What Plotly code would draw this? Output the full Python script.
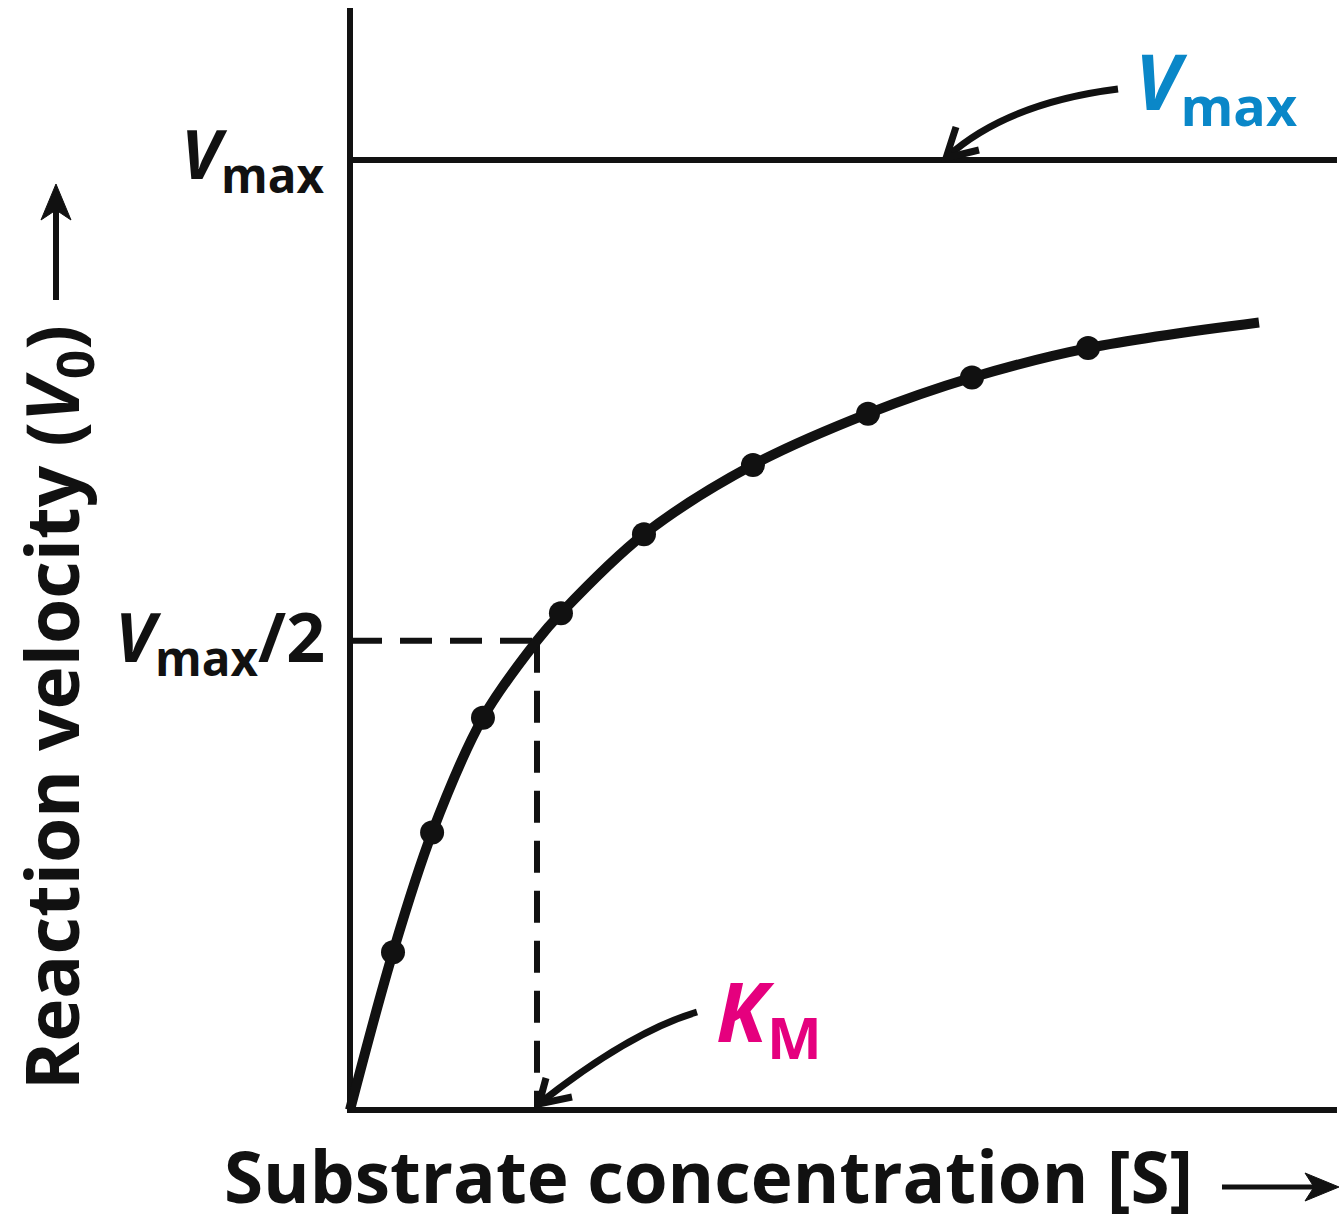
import plotly.graph_objects as go

# ---------------- data ----------------
# x in units of K_M, y in units of Vmax
S_points = [0.230, 0.439, 0.711, 1.128, 1.572, 2.155, 2.770, 3.326, 3.947]
V_points = [0.166, 0.292, 0.413, 0.523, 0.606, 0.679, 0.733, 0.771, 0.802]
curve_S = [0.0, 0.230, 0.439, 0.711, 1.0, 1.128, 1.572, 2.155, 2.770, 3.326, 3.947, 4.861]
curve_V = [0.0, 0.166, 0.292, 0.413, 0.494, 0.523, 0.606, 0.679, 0.733, 0.771, 0.802, 0.829]
VMAX = 1.0
VHALF = 0.494
KM = 1.0
S_AXIS_END = 5.278
V_AXIS_END = 1.16

x_title = "Substrate concentration [S]"
y_title = "Reaction velocity (<i>V</i><sub>0</sub>)"
lbl_vmax = "<i>V</i><sub>max</sub>"
lbl_vhalf = "<i>V</i><sub>max</sub>/2"
lbl_km = "<i>K</i><sub>M</sub>"

# ---------------- layout geometry ----------------
W, H = 1344, 1224
ML, MR, MT, MB = 330, 0, 0, 100
PW, PH = W - ML - MR, H - MT - MB
X0PX, XSCALE = 350, 187.0     # pixel of S=0, pixels per K_M
Y0PX, YSCALE = 1110, 950.0    # pixel of V=0, pixels per Vmax

def PX(px):
    return (px - ML) / PW

def PY(py):
    return (H - MB - py) / PH

BLACK = "#111111"
BLUE = "#0a87c8"
PINK = "#e5007e"
FONT = "Open Sans"

fig = go.Figure()
fig.add_trace(go.Scatter(x=curve_S, y=curve_V, mode="lines",
                         line=dict(color=BLACK, width=10, shape="spline", smoothing=1.0),
                         hoverinfo="skip", showlegend=False))
fig.add_trace(go.Scatter(x=S_points, y=V_points, mode="markers",
                         marker=dict(color=BLACK, size=24),
                         showlegend=False))

shapes = []
# axes
shapes.append(dict(type="line", xref="x", yref="y", x0=0, x1=0, y0=-3 / YSCALE, y1=V_AXIS_END,
                   line=dict(color=BLACK, width=6), layer="below"))
shapes.append(dict(type="line", xref="x", yref="y", x0=-3 / XSCALE, x1=S_AXIS_END, y0=0, y1=0,
                   line=dict(color=BLACK, width=6), layer="below"))
# Vmax line
shapes.append(dict(type="line", xref="x", yref="y", x0=0, x1=S_AXIS_END, y0=VMAX, y1=VMAX,
                   line=dict(color=BLACK, width=6), layer="below"))
# dashed guides
shapes.append(dict(type="line", xref="x", yref="y", x0=0, x1=KM, y0=VHALF, y1=VHALF,
                   line=dict(color=BLACK, width=6, dash="32px,18px"), layer="below"))
shapes.append(dict(type="line", xref="x", yref="y", x0=KM, x1=KM, y0=VHALF, y1=0,
                   line=dict(color=BLACK, width=6, dash="32px,18px"), layer="below"))

def ppath(cmds):
    out = []
    for c in cmds:
        if isinstance(c, str):
            out.append(c)
        else:
            out.append(f"{PX(c[0]):.5f},{PY(c[1]):.5f}")
    return " ".join(out)

# curved pointer to Vmax line
shapes.append(dict(type="path", xref="paper", yref="paper",
                   path=ppath(["M", (1118, 89), "Q", (1007, 103), (947, 157)]),
                   line=dict(color=BLACK, width=7)))
shapes.append(dict(type="path", xref="paper", yref="paper",
                   path=ppath(["M", (956, 127), "L", (946, 158), "L", (979, 150)]),
                   line=dict(color=BLACK, width=7)))
# curved pointer to KM
shapes.append(dict(type="path", xref="paper", yref="paper",
                   path=ppath(["M", (697, 1012), "Q", (630, 1032), (540, 1103)]),
                   line=dict(color=BLACK, width=7)))
shapes.append(dict(type="path", xref="paper", yref="paper",
                   path=ppath(["M", (546, 1078), "L", (539, 1104), "L", (572, 1097)]),
                   line=dict(color=BLACK, width=7)))
# axis title arrows
shapes.append(dict(type="path", xref="paper", yref="paper",
                   path=ppath(["M", (56, 300), "L", (56, 205)]),
                   line=dict(color=BLACK, width=6)))
shapes.append(dict(type="path", xref="paper", yref="paper",
                   path=ppath(["M", (56, 184), "L", (41, 220), "L", (56, 210), "L", (71, 220), "Z"]),
                   line=dict(color=BLACK, width=1), fillcolor=BLACK))
shapes.append(dict(type="path", xref="paper", yref="paper",
                   path=ppath(["M", (1222, 1187), "L", (1320, 1187)]),
                   line=dict(color=BLACK, width=5)))
shapes.append(dict(type="path", xref="paper", yref="paper",
                   path=ppath(["M", (1339, 1187), "L", (1305, 1173), "L", (1314, 1187), "L", (1305, 1201), "Z"]),
                   line=dict(color=BLACK, width=1), fillcolor=BLACK))

def font(size, color=BLACK):
    return dict(family=FONT, size=size, color=color, weight=700)

annotations = [
    dict(text=lbl_vmax, x=PX(327), y=PY(156), xanchor="right", yanchor="middle",
         font=font(68)),
    dict(text=lbl_vhalf, x=PX(327), y=PY(639), xanchor="right", yanchor="middle",
         font=font(68)),
    dict(text=lbl_vmax, x=PX(1133), y=PY(85), xanchor="left", yanchor="middle",
         font=font(77, BLUE)),
    dict(text=lbl_km, x=PX(714), y=PY(1014), xanchor="left", yanchor="middle",
         font=font(83, PINK)),
    dict(text=x_title, x=PX(222), y=PY(1175), xanchor="left", yanchor="middle",
         font=font(71)),
    dict(text=y_title, x=PX(55), y=PY(708), xanchor="center", yanchor="middle",
         textangle=-90, font=font(73)),
]
for a in annotations:
    a.update(xref="paper", yref="paper", showarrow=False)

fig.update_layout(
    width=W, height=H,
    margin=dict(l=ML, r=MR, t=MT, b=MB, pad=0),
    paper_bgcolor="white", plot_bgcolor="white",
    shapes=shapes, annotations=annotations,
    showlegend=False,
    xaxis=dict(range=[(ML - X0PX) / XSCALE, (W - MR - X0PX) / XSCALE],
               visible=False, showgrid=False, zeroline=False, fixedrange=True),
    yaxis=dict(range=[(Y0PX - (H - MB)) / YSCALE, (Y0PX - MT) / YSCALE],
               visible=False, showgrid=False, zeroline=False, fixedrange=True),
)

fig.write_html("out.html", config={"displayModeBar": False},
               post_script="document.body.style.margin='0';")
